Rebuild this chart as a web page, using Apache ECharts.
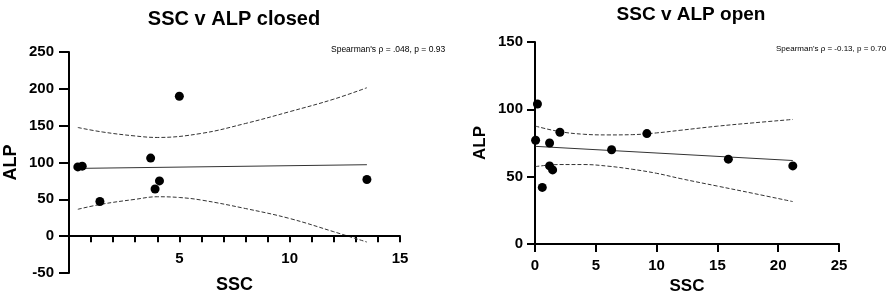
<html>
<head>
  <meta charset='utf-8' />
  <title>SSC v ALP</title>
  <script src="https://cdn.jsdelivr.net/npm/echarts@6/dist/echarts.min.js"></script>
</head>
<body style="margin: 0; background-color: #ffffff">
  <div id="main" style="width: 886px; height: 296px;"></div>
  <script type="text/javascript">
    // closed group
    var closedSSC = [0.4, 0.6, 1.4, 3.7, 3.9, 4.1, 5.0, 13.5];
    var closedALP = [94, 95, 47, 106, 64, 75, 190, 77];
    var closedFitX = [0.4, 13.5];
    var closedFitY = [92, 97];
    var closedUpperX = [0.4, 1.5, 3, 4, 6, 8, 10, 12, 13.5];
    var closedUpperY = [147.5, 141.5, 136, 134, 139.5, 153, 169, 186, 201.5];
    var closedLowerX = [0.4, 1.5, 3, 4, 5, 6, 8, 10, 12, 13.5];
    var closedLowerY = [36.5, 43.5, 50, 53.5, 52.5, 49, 37.5, 24, 6, -8];

    // open group
    var openSSC = [0.05, 0.2, 0.6, 1.2, 1.2, 1.45, 2.05, 6.3, 9.2, 15.9, 21.2];
    var openALP = [77, 104, 42, 75, 58, 55, 83, 70, 82, 63, 58];
    var openFitX = [0.05, 21.2];
    var openFitY = [72.5, 62];
    var openBandX = [0.05, 2, 4, 6, 8, 10, 12, 15, 18, 21.2];
    var openUpperY = [87.5, 83.5, 81.5, 81, 81.2, 82.5, 84.5, 87.5, 90, 92.5];
    var openLowerY = [57.5, 59, 59, 57.8, 55.5, 52.5, 48.5, 43, 37.5, 31.5];

    var titles = ['SSC v ALP closed', 'SSC v ALP open'];
    var stats = ["Spearman's \u03c1 = .048, p = 0.93", "Spearman's \u03c1 = -0.13, p = 0.70"];

    var FONT = '"Liberation Sans", Arial, sans-serif';

    function zip(xs, ys) {
        return xs.map(function(x, i) { return [x, ys[i]]; });
    }

    function lineSeries(idx, xs, ys, dashed) {
        return {
            type: 'line', xAxisIndex: idx, yAxisIndex: idx,
            data: zip(xs, ys), symbol: 'none', smooth: dashed ? 0.4 : false,
            silent: true, z: 1,
            lineStyle: {color: '#333', width: 1, type: dashed ? [4, 2] : 'solid'}
        };
    }

    function dotSeries(idx, xs, ys) {
        return {
            type: 'scatter', xAxisIndex: idx, yAxisIndex: idx,
            data: zip(xs, ys), symbol: 'circle', symbolSize: 9, z: 3,
            itemStyle: {color: '#000', opacity: 1}
        };
    }

    function axisBase(extra) {
        var a = {
            axisLine: {show: true, onZero: false, lineStyle: {color: '#000', width: 2}},
            axisTick: {show: true, lineStyle: {color: '#000', width: 2}},
            axisLabel: {color: '#000', fontFamily: FONT, fontWeight: 'bold', fontSize: 15},
            splitLine: {show: false},
            nameTextStyle: {color: '#000', fontFamily: FONT, fontWeight: 'bold', fontSize: 18},
            nameLocation: 'middle'
        };
        for (var k in extra) {
            if (typeof extra[k] === 'object' && a[k] && !Array.isArray(extra[k])) {
                for (var j in extra[k]) a[k][j] = extra[k][j];
            } else a[k] = extra[k];
        }
        return a;
    }

    var closedFit = lineSeries(0, closedFitX, closedFitY, false);
    // x axis line of the left panel runs along ALP = 0
    closedFit.markLine = {
        silent: true, symbol: 'none', label: {show: false},
        lineStyle: {color: '#000', width: 2, type: 'solid'},
        data: [{yAxis: 0}]
    };

    var myChart = echarts.init(document.getElementById('main'), null, {renderer: 'canvas'});
    var option = {
        animation: false,
        title: [
            {text: titles[0], left: 229, top: 4, textAlign: 'center',
             textStyle: {fontFamily: FONT, fontSize: 20, fontWeight: 'bold', color: '#000'}},
            {text: titles[1], left: 686, top: 0, textAlign: 'center',
             textStyle: {fontFamily: FONT, fontSize: 19, fontWeight: 'bold', color: '#000'}},
            {text: stats[0], left: 326, top: 40,
             textStyle: {fontFamily: FONT, fontSize: 8.5, fontWeight: 'normal', color: '#000'}},
            {text: stats[1], left: 771, top: 40,
             textStyle: {fontFamily: FONT, fontSize: 8, fontWeight: 'normal', color: '#000'}}
        ],
        grid: [
            {left: 69, right: 486, top: 52, bottom: 23, outerBoundsMode: 'none'},
            {left: 535, right: 47, top: 42, bottom: 52, outerBoundsMode: 'none'},
            // left x axis sits on the y = 0 line
            {left: 69, right: 486, top: 52, bottom: 59.8, outerBoundsMode: 'none'}
        ],
        xAxis: [
            {gridIndex: 0, type: 'value', min: 0, max: 15, show: false},
            axisBase({
                gridIndex: 1, type: 'value', min: 0, max: 25, interval: 5,
                name: 'SSC', nameGap: 34,
                nameTextStyle: {fontSize: 17},
                axisTick: {length: 8},
                axisLabel: {margin: 14}
            }),
            // ticks every 1, labels only on multiples of 5
            axisBase({
                gridIndex: 2, type: 'value', min: 0, max: 15, interval: 1,
                name: 'SSC', nameGap: 40,
                axisTick: {length: 6},
                axisLabel: {margin: 15, formatter: function(v) { return (v % 5 === 0 && v !== 0) ? v : ''; }}
            }),
            // invisible companion axis at the top of the same box
            axisBase({
                gridIndex: 2, type: 'value', min: 0, max: 15, interval: 5,
                axisLine: {lineStyle: {color: 'rgba(0,0,0,0)', width: 2}},
                axisTick: {show: false},
                axisLabel: {show: false}
            })
        ],
        yAxis: [
            axisBase({
                gridIndex: 0, type: 'value', min: -50, max: 250, interval: 50,
                name: 'ALP', nameGap: 49,
                axisTick: {length: 10},
                axisLabel: {margin: 15}
            }),
            axisBase({
                gridIndex: 1, type: 'value', min: 0, max: 150, interval: 50,
                name: 'ALP', nameGap: 46,
                nameTextStyle: {fontSize: 17},
                axisTick: {length: 8},
                axisLabel: {margin: 12}
            }),
            {gridIndex: 2, type: 'value', min: 0, max: 1, show: false}
        ],
        series: [
            closedFit,
            lineSeries(0, closedUpperX, closedUpperY, true),
            lineSeries(0, closedLowerX, closedLowerY, true),
            dotSeries(0, closedSSC, closedALP),
            lineSeries(1, openFitX, openFitY, false),
            lineSeries(1, openBandX, openUpperY, true),
            lineSeries(1, openBandX, openLowerY, true),
            dotSeries(1, openSSC, openALP)
        ]
    };
    myChart.setOption(option);
  </script>
</body>
</html>
